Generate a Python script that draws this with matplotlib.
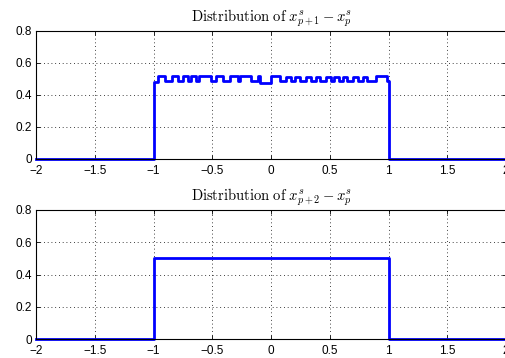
import numpy as np
import matplotlib
matplotlib.use('Agg')
import matplotlib.pyplot as plt

plt.rcParams['mathtext.fontset'] = 'cm'
plt.rcParams['font.family'] = ['Liberation Sans', 'DejaVu Sans']

# step edges / levels (steps-post)
x_top = [-2, -1, -0.96, -0.90, -0.84, -0.79, -0.75, -0.71, -0.68, -0.64, -0.61,
         -0.51, -0.47, -0.41, -0.35, -0.28, -0.26, -0.17, -0.11, -0.09, 0.0,
         0.08, 0.13, 0.17, 0.20, 0.25, 0.30, 0.34, 0.38, 0.42, 0.47, 0.51,
         0.54, 0.58, 0.61, 0.65, 0.70, 0.74, 0.78, 0.82, 0.89, 0.99, 1.0, 2.0]
y_top = [0, 0.48, 0.52, 0.49, 0.52, 0.49, 0.52, 0.49, 0.52, 0.49, 0.52,
         0.49, 0.52, 0.49, 0.52, 0.49, 0.52, 0.49, 0.52, 0.475, 0.52,
         0.49, 0.51, 0.49, 0.51, 0.49, 0.51, 0.49, 0.51, 0.49, 0.51, 0.49,
         0.51, 0.49, 0.51, 0.49, 0.51, 0.49, 0.51, 0.49, 0.52, 0.49, 0, 0]

x_bot = [-2, -1, 1, 2]
y_bot = [0, 0.5, 0, 0]

titles = [r'$\mathrm{Distribution\ of}\ x^s_{p+1} - x^s_p$',
          r'$\mathrm{Distribution\ of}\ x^s_{p+2} - x^s_p$']
xticks = [-2, -1.5, -1, -0.5, 0, 0.5, 1, 1.5, 2]
xticklabels = ['\u22122', '\u22121.5', '\u22121', '\u22120.5', '0', '0.5', '1', '1.5', '2']
yticks = [0, 0.2, 0.4, 0.6, 0.8]
yticklabels = ['0', '0.2', '0.4', '0.6', '0.8']

fig = plt.figure(figsize=(5.06, 3.58), dpi=100)
ax1 = fig.add_axes([36 / 506, 1 - 159 / 358, 470 / 506, 128 / 358])
ax2 = fig.add_axes([36 / 506, 1 - 339 / 358, 470 / 506, 129 / 358])

for ax, xs, ys, t in [(ax1, x_top, y_top, titles[0]), (ax2, x_bot, y_bot, titles[1])]:
    ax.plot(xs, ys, drawstyle='steps-post', color='#0000ff', lw=2, clip_on=False)
    ax.set_xlim(-2, 2)
    ax.set_ylim(0, 0.8)
    ax.set_xticks(xticks)
    ax.set_xticklabels(xticklabels)
    ax.set_yticks(yticks)
    ax.set_yticklabels(yticklabels)
    ax.tick_params(direction='in', top=True, right=True, labelsize=8.5,
                   length=3, width=0.6)
    ax.tick_params(axis='x', pad=4)
    ax.tick_params(axis='y', pad=3)
    ax.grid(True, color='black', linestyle=(0, (1, 3.5)), linewidth=0.6)
    for s in ax.spines.values():
        s.set_linewidth(0.8)
    ax.set_title(t, fontsize=10.5, pad=7)

fig.savefig('out.png', dpi=100)
